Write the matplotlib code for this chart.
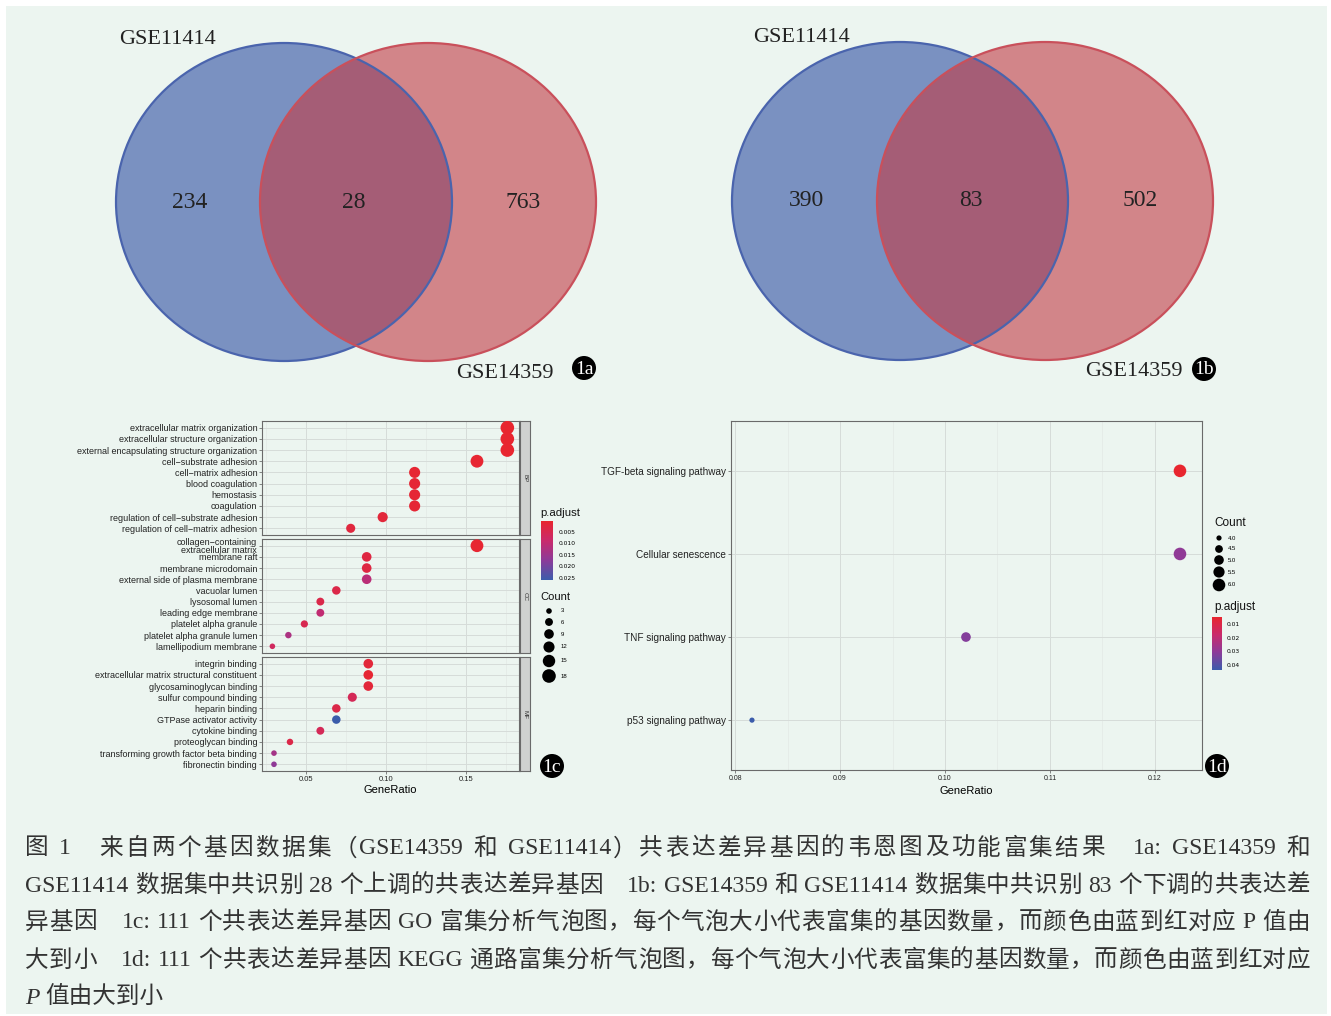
import numpy as np
import matplotlib
matplotlib.use("Agg")
import matplotlib.pyplot as plt
from matplotlib.patches import Ellipse, Circle, Rectangle
from matplotlib.colors import LinearSegmentedColormap, Normalize
from matplotlib.ticker import MultipleLocator

W, H = 1331, 1016

# Venn counts: left only, shared, right only
set_names = ["GSE11414", "GSE14359"]
venn_up = [234, 28, 763]
venn_down = [390, 83, 502]

# GO enrichment (BP / CC / MF)
bp_terms = ["extracellular matrix organization", "extracellular structure organization",
            "external encapsulating structure organization", "cell\u2212substrate adhesion",
            "cell\u2212matrix adhesion", "blood coagulation", "hemostasis", "coagulation",
            "regulation of cell\u2212substrate adhesion", "regulation of cell\u2212matrix adhesion"]
bp_ratio = [0.176, 0.176, 0.176, 0.157, 0.118, 0.118, 0.118, 0.118, 0.098, 0.078]
bp_count = [18, 18, 18, 16, 12, 12, 12, 12, 10, 8]
bp_padj = [0.0004, 0.0005, 0.0005, 0.0008, 0.0010, 0.0012, 0.0012, 0.0013, 0.0020, 0.0025]

cc_terms = ["collagen\u2212containing\nextracellular matrix", "membrane raft", "membrane microdomain",
            "external side of plasma membrane", "vacuolar lumen", "lysosomal lumen",
            "leading edge membrane", "platelet alpha granule", "platelet alpha granule lumen",
            "lamellipodium membrane"]
cc_ratio = [0.157, 0.088, 0.088, 0.088, 0.069, 0.059, 0.059, 0.049, 0.039, 0.029]
cc_count = [16, 9, 9, 9, 7, 6, 6, 5, 4, 3]
cc_padj = [0.0008, 0.0030, 0.0032, 0.0110, 0.0040, 0.0042, 0.0100, 0.0050, 0.0130, 0.0070]

mf_terms = ["integrin binding", "extracellular matrix structural constituent",
            "glycosaminoglycan binding", "sulfur compound binding", "heparin binding",
            "GTPase activator activity", "cytokine binding", "proteoglycan binding",
            "transforming growth factor beta binding", "fibronectin binding"]
mf_ratio = [0.089, 0.089, 0.089, 0.079, 0.069, 0.069, 0.059, 0.040, 0.030, 0.030]
mf_count = [9, 9, 9, 8, 7, 7, 6, 4, 3, 3]
mf_padj = [0.0020, 0.0010, 0.0020, 0.0060, 0.0040, 0.0259, 0.0060, 0.0040, 0.0140, 0.0170]

go_count_breaks = [3, 6, 9, 12, 15, 18]
go_padj_ticks = [0.005, 0.010, 0.015, 0.020, 0.025]

# KEGG enrichment
kegg_terms = ["TGF-beta signaling pathway", "Cellular senescence",
              "TNF signaling pathway", "p53 signaling pathway"]
kegg_ratio = [0.1224, 0.1224, 0.1020, 0.0816]
kegg_count = [6, 6, 5, 4]
kegg_padj = [0.0049, 0.0300, 0.0320, 0.0437]
kegg_count_breaks = [4.0, 4.5, 5.0, 5.5, 6.0]
kegg_padj_ticks = [0.01, 0.02, 0.03, 0.04]

caption = [
    "图 1\u3000来自两个基因数据集（GSE14359 和 GSE11414）共表达差异基因的韦恩图及功能富集结果\u30001a: GSE14359 和",
    "GSE11414 数据集中共识别 28 个上调的共表达差异基因\u30001b: GSE14359 和 GSE11414 数据集中共识别 83 个下调的共表达差",
    "异基因\u30001c: 111 个共表达差异基因 GO 富集分析气泡图，每个气泡大小代表富集的基因数量，而颜色由蓝到红对应 P 值由",
    "大到小\u30001d: 111 个共表达差异基因 KEGG 通路富集分析气泡图，每个气泡大小代表富集的基因数量，而颜色由蓝到红对应",
]
caption_last = "值由大到小"

BG = "#ecf5f0"
SERIF = ["Liberation Serif", "Noto Sans CJK SC"]
SANS = "Liberation Sans"
cmap = LinearSegmentedColormap.from_list("padj", ["#e8262f", "#c92a6c", "#8c3b99", "#3b5cab"])

fig = plt.figure(figsize=(W / 100, H / 100), dpi=100)
bg = fig.add_axes([0, 0, 1, 1])
bg.set_xlim(0, W)
bg.set_ylim(H, 0)
bg.axis("off")
bg.add_patch(Rectangle((6, 6), W - 10, H - 8, facecolor=BG, edgecolor="none"))
renderer = fig.canvas.get_renderer()


def px_axes(x0, y0, x1, y1):
    return fig.add_axes([x0 / W, 1 - y1 / H, (x1 - x0) / W, (y1 - y0) / H])


def bubble_size(c, cmin, cmax, rmin, rmax):
    # ggplot-like area scaling, radius given in pixels
    a = rmin ** 2 + (np.asarray(c, float) - cmin) / (cmax - cmin) * (rmax ** 2 - rmin ** 2)
    return (1.44 * np.sqrt(a)) ** 2


def badge(x, y, label):
    bg.add_patch(Circle((x, y), 12, facecolor="black", edgecolor="none"))
    bg.text(x, y + 1, label, color="white", ha="center", va="center",
            fontsize=14, family="Liberation Serif")


def venn(cxl, cxr, cy, counts, name_top, name_bot, tag, tag_xy):
    for cx, fc in [(cxl, "#2e4fa3"), (cxr, "#c23b44")]:
        bg.add_patch(Ellipse((cx, cy), 336, 318, facecolor=fc, alpha=0.6, edgecolor="none"))
    for cx, ec in [(cxl, "#4a64ad"), (cxr, "#c9505b")]:
        bg.add_patch(Ellipse((cx, cy), 336, 318, fill=False, edgecolor=ec, lw=1.6))
    xs = [cxl - 94, (cxl + cxr) / 2 - 2, cxr + 95]
    for x, n in zip(xs, counts):
        bg.text(x, cy, str(n), ha="center", va="center", fontsize=17,
                family="Liberation Serif", color="#222222")
    bg.text(name_top[0], name_top[1], set_names[0], ha="center", va="center",
            fontsize=16, family="Liberation Serif", color="#222222")
    bg.text(name_bot[0], name_bot[1], set_names[1], ha="center", va="center",
            fontsize=16, family="Liberation Serif", color="#222222")
    badge(tag_xy[0], tag_xy[1], tag)


venn(284, 428, 202, venn_up, (168, 40), (505, 374), "1a", (584, 368))
venn(900, 1045, 201, venn_down, (802, 38), (1134, 372), "1b", (1204, 369))


def style_panel(ax):
    ax.set_facecolor(BG)
    for s in ax.spines.values():
        s.set_color("#6a6a6a")
        s.set_linewidth(0.8)
    ax.grid(True, which="major", color="#d6dcd9", lw=0.7, zorder=0)
    ax.grid(True, which="minor", axis="x", color="#e0e5e2", lw=0.4, zorder=0)
    ax.set_axisbelow(True)
    ax.tick_params(axis="both", which="major", length=2, width=0.5, color="#555555",
                   pad=1.5, labelcolor="#222222")
    ax.tick_params(axis="both", which="minor", length=0)


# GO bubble plot, faceted by ontology
go_all_count = bp_count + cc_count + mf_count
go_all_padj = bp_padj + cc_padj + mf_padj
go_norm = Normalize(min(go_all_padj), max(go_all_padj))
cmin, cmax = min(go_all_count), max(go_all_count)
go_sets = [("BP", bp_terms, bp_ratio, bp_count, bp_padj, 421),
           ("CC", cc_terms, cc_ratio, cc_count, cc_padj, 539),
           ("MF", mf_terms, mf_ratio, mf_count, mf_padj, 657)]
for k, (name, terms, ratio, count, padj, top) in enumerate(go_sets):
    ax = px_axes(262, top, 519, top + 114)
    style_panel(ax)
    y = np.arange(1, len(terms) + 1)
    ax.scatter(ratio, y, s=bubble_size(count, cmin, cmax, 2.8, 6.8), c=padj,
               cmap=cmap, norm=go_norm, edgecolors="none", zorder=3)
    ax.set_xlim(0.0225, 0.1833)
    ax.set_ylim(len(terms) + 0.6, 0.4)
    ax.set_yticks(y)
    ax.set_yticklabels(terms, fontsize=6.5, family=SANS, linespacing=0.85)
    ax.xaxis.set_major_locator(MultipleLocator(0.05))
    ax.xaxis.set_minor_locator(MultipleLocator(0.025))
    if k < 2:
        ax.tick_params(axis="x", which="both", bottom=False, labelbottom=False)
    else:
        ax.set_xticks([0.05, 0.10, 0.15])
        ax.set_xticklabels(["0.05", "0.10", "0.15"], fontsize=5.5, family=SANS)
        ax.set_xlabel("GeneRatio", fontsize=8, family=SANS, labelpad=1.5)
    strip = px_axes(520, top, 530, top + 114)
    strip.set_facecolor("#cfd1d0")
    strip.set_xticks([])
    strip.set_yticks([])
    for s in strip.spines.values():
        s.set_color("#6a6a6a")
        s.set_linewidth(0.8)
    strip.text(0.5, 0.5, name, rotation=-90, ha="center", va="center",
               fontsize=4.5, family=SANS, color="#333333", transform=strip.transAxes)

# GO legends
bg.text(540, 513, "p.adjust", fontsize=8.2, family=SANS, ha="left", va="center", color="#111111")
cax = px_axes(541, 521, 553, 580)
cb = fig.colorbar(plt.cm.ScalarMappable(norm=go_norm, cmap=cmap), cax=cax)
cb.outline.set_visible(False)
cb.set_ticks(go_padj_ticks)
cb.set_ticklabels([f"{t:.3f}" for t in go_padj_ticks])
cax.invert_yaxis()
cax.tick_params(length=0, labelsize=4.3, pad=4)

bg.text(540, 597, "Count", fontsize=8, family=SANS, ha="left", va="center", color="#111111")
ly = [611, 622, 634, 647, 661, 676]
bg.scatter([549] * len(go_count_breaks), ly,
           s=bubble_size(go_count_breaks, cmin, cmax, 2.8, 6.8), color="black", edgecolors="none")
for yy, c in zip(ly, go_count_breaks):
    bg.text(561, yy, str(c), fontsize=4.3, family=SANS, ha="left", va="center")
badge(552, 766, "1c")

# KEGG bubble plot
ax = px_axes(731, 421, 1202, 770)
style_panel(ax)
kegg_norm = Normalize(min(kegg_padj), max(kegg_padj))
y = np.arange(1, len(kegg_terms) + 1)
kmin, kmax = min(kegg_count), max(kegg_count)
ax.scatter(kegg_ratio, y, s=bubble_size(kegg_count, kmin, kmax, 2.6, 6.3), c=kegg_padj,
           cmap=cmap, norm=kegg_norm, edgecolors="none", zorder=3)
ax.set_xlim(0.0796, 0.1245)
ax.set_ylim(len(kegg_terms) + 0.6, 0.4)
ax.set_yticks(y)
ax.set_yticklabels(kegg_terms, fontsize=7.2, family=SANS)
ax.xaxis.set_major_locator(MultipleLocator(0.01))
ax.xaxis.set_minor_locator(MultipleLocator(0.005))
ax.set_xticks([0.08, 0.09, 0.10, 0.11, 0.12])
ax.set_xticklabels(["0.08", "0.09", "0.10", "0.11", "0.12"], fontsize=5, family=SANS)
ax.set_xlabel("GeneRatio", fontsize=8, family=SANS, labelpad=3)

bg.text(1214, 523, "Count", fontsize=8.5, family=SANS, ha="left", va="center", color="#111111")
ky = [538, 549, 560, 572, 585]
bg.scatter([1219] * len(kegg_count_breaks), ky,
           s=bubble_size(kegg_count_breaks, kmin, kmax, 2.6, 6.3), color="black", edgecolors="none")
for yy, c in zip(ky, kegg_count_breaks):
    bg.text(1228, yy, f"{c:.1f}", fontsize=4.3, family=SANS, ha="left", va="center")
bg.text(1214, 607, "p.adjust", fontsize=8.5, family=SANS, ha="left", va="center", color="#111111")
kcax = px_axes(1212, 617, 1222, 670)
kcb = fig.colorbar(plt.cm.ScalarMappable(norm=kegg_norm, cmap=cmap), cax=kcax)
kcb.outline.set_visible(False)
kcb.set_ticks(kegg_padj_ticks)
kcb.set_ticklabels([f"{t:.2f}" for t in kegg_padj_ticks])
kcax.invert_yaxis()
kcax.tick_params(length=0, labelsize=4.3, pad=3)
badge(1217, 766, "1d")


# figure caption, justified line by line
def advance(s, **kw):
    # advance width of s in pixels, bracketed so spaces count
    t = bg.text(0, 0, "|" + s + "|", **kw)
    w = t.get_window_extent(renderer).width
    t.remove()
    return w - bar_w


def latin(ch):
    return ch.isascii() and ch.strip() != ""


cap_kw = dict(fontsize=17, family=SERIF, color="#333333")
t0 = bg.text(0, 0, "||", **cap_kw)
bar_w = t0.get_window_extent(renderer).width
t0.remove()

x_left, x_right = 25, 1310
cap_y = [849, 886, 923, 961]
for yy, line in zip(cap_y, caption):
    # Latin words stay as one piece; extra space goes between the other characters
    pieces = []
    for ch in line:
        if pieces and latin(ch) and latin(pieces[-1][-1]):
            pieces[-1] += ch
        else:
            pieces.append(ch)
    widths = [advance(p, **cap_kw) for p in pieces]
    extra = (x_right - x_left - sum(widths)) / (len(pieces) - 1)
    x = x_left
    for p, w in zip(pieces, widths):
        if p.strip():
            bg.text(x, yy, p, ha="left", va="center", **cap_kw)
        x += w + extra
bg.text(25, 998, "P", fontsize=17, family="Liberation Serif", style="italic",
        ha="left", va="center", color="#333333")
bg.text(45, 998, caption_last, ha="left", va="center", **cap_kw)

fig.savefig("out.png", dpi=100, facecolor="white")
